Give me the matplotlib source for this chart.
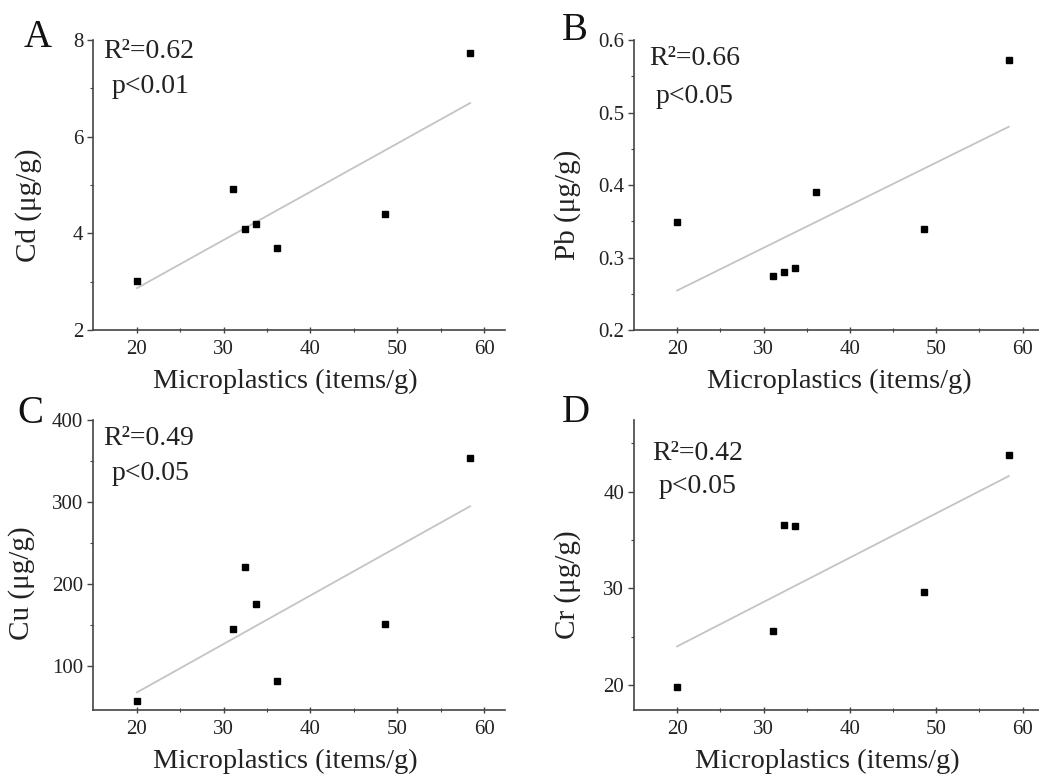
import matplotlib
matplotlib.use('Agg')
import numpy as np
import matplotlib.pyplot as plt

plt.rcParams['font.family'] = ['Liberation Serif', 'DejaVu Serif']

# ============================================================
# Data
# ============================================================
mp    = [20.0, 31.1, 32.4, 33.7, 36.1, 48.6, 58.4]
cd    = [3.01, 4.92, 4.10, 4.19, 3.69, 4.41, 7.74]
pb    = [0.349, 0.274, 0.280, 0.285, 0.390, 0.339, 0.572]
cu    = [58, 146, 221, 176, 82, 152, 354]
mp_cr = [20.0, 31.1, 32.4, 33.7, 48.6, 58.4]
cr    = [19.8, 25.6, 36.5, 36.4, 29.6, 43.8]

labels_y = ['Cd (μg/g)', 'Pb (μg/g)', 'Cu (μg/g)', 'Cr (μg/g)']
r2_txt   = ['R²=0.62', 'R²=0.66', 'R²=0.49', 'R²=0.42']
p_txt    = ['p<0.01', 'p<0.05', 'p<0.05', 'p<0.05']
letters  = ['A', 'B', 'C', 'D']
XLABEL   = 'Microplastics (items/g)'

W, H = 1039, 776
fig = plt.figure(figsize=(W / 100, H / 100), dpi=100)

def px_ax(l, r, b, t):
    return fig.add_axes([l / W, 1 - b / H, (r - l) / W, (b - t) / H])

# panel geometry (pixels)
axA = px_ax(93, 505, 330, 40)
axB = px_ax(634, 1039, 330, 40)
axC = px_ax(93, 505, 710, 420)
axD = px_ax(634, 1039, 710, 420)

panels = [
    (axA, mp, cd, (2, 8), [2, 4, 6, 8], 1, (14.93, 62.42)),
    (axB, mp, pb, (0.2, 0.6), [0.2, 0.3, 0.4, 0.5, 0.6], 0.05, (15.0, 61.9)),
    (axC, mp, cu, (47, 400), [100, 200, 300, 400], None, (14.93, 62.42)),
    (axD, mp_cr, cr, (17.4, 47.4), [20, 30, 40], 5, (15.0, 61.9)),
]

txt_pos = [((0.024, 0.937), (0.045, 0.818)),
           ((0.037, 0.914), (0.054, 0.782)),
           ((0.025, 0.914), (0.045, 0.793)),
           ((0.045, 0.862), (0.060, 0.747))]
ylab_pos = [(-0.124, 0.431), (-0.131, 0.431), (-0.141, 0.438), (-0.131, 0.431)]
xlab_x   = [0.466, 0.506, 0.466, 0.477]
letter_pos = [(24, 47), (562, 40), (17, 423), (562, 422)]

spine_c = '#444444'
for k, (ax, xs, ys, ylim, yt, ymin, xlim) in enumerate(panels):
    xs = np.array(xs); ys = np.array(ys)
    a, b = np.polyfit(xs, ys, 1)
    xf = np.array([xs.min(), xs.max()])
    ax.plot(xf, a * xf + b, color='#c4c4c4', lw=1.3, zorder=1)
    ax.plot(xs, ys, 's', color='black', markersize=4, zorder=2)

    ax.set_xlim(*xlim); ax.set_ylim(*ylim)
    ax.set_xticks([20, 30, 40, 50, 60])
    ax.set_xticks([25, 35, 45, 55], minor=True)
    ax.set_yticks(yt)
    if k == 1:
        ax.set_yticklabels(['0.2', '0.3', '0.4', '0.5', '0.6'])
    if ymin:
        ax.set_yticks(np.arange(ylim[0] - ylim[0] % ymin, ylim[1], ymin)[1:], minor=True)
    else:
        ax.set_yticks([150, 250, 350], minor=True)
    for s in ['top', 'right']:
        ax.spines[s].set_visible(False)
    for s in ['left', 'bottom']:
        ax.spines[s].set_color(spine_c); ax.spines[s].set_linewidth(1.2)
    ax.tick_params(which='major', length=4, width=1, color=spine_c,
                   labelsize=15, labelcolor='#222222', pad=3)
    ax.tick_params(which='minor', length=2.5, width=0.8, color=spine_c)
    ax.tick_params(axis='x', which='both', direction='inout', pad=5)

    ax.set_ylabel(labels_y[k], fontsize=21, color='#222222')
    ax.yaxis.set_label_coords(*ylab_pos[k])
    ax.set_xlabel(XLABEL, fontsize=20.5, color='#222222', va='top')
    ax.xaxis.set_label_coords(xlab_x[k], -0.135)

    (x1, y1), (x2, y2) = txt_pos[k]
    ax.text(x1, y1, r2_txt[k], transform=ax.transAxes, fontsize=20, color='#222222')
    ax.text(x2, y2, p_txt[k], transform=ax.transAxes, fontsize=20, color='#222222')

    lx, ly = letter_pos[k]
    fig.text(lx / W, 1 - ly / H, letters[k], fontsize=28, color='#111111')

plt.savefig('out.png', dpi=100)
plt.close()
